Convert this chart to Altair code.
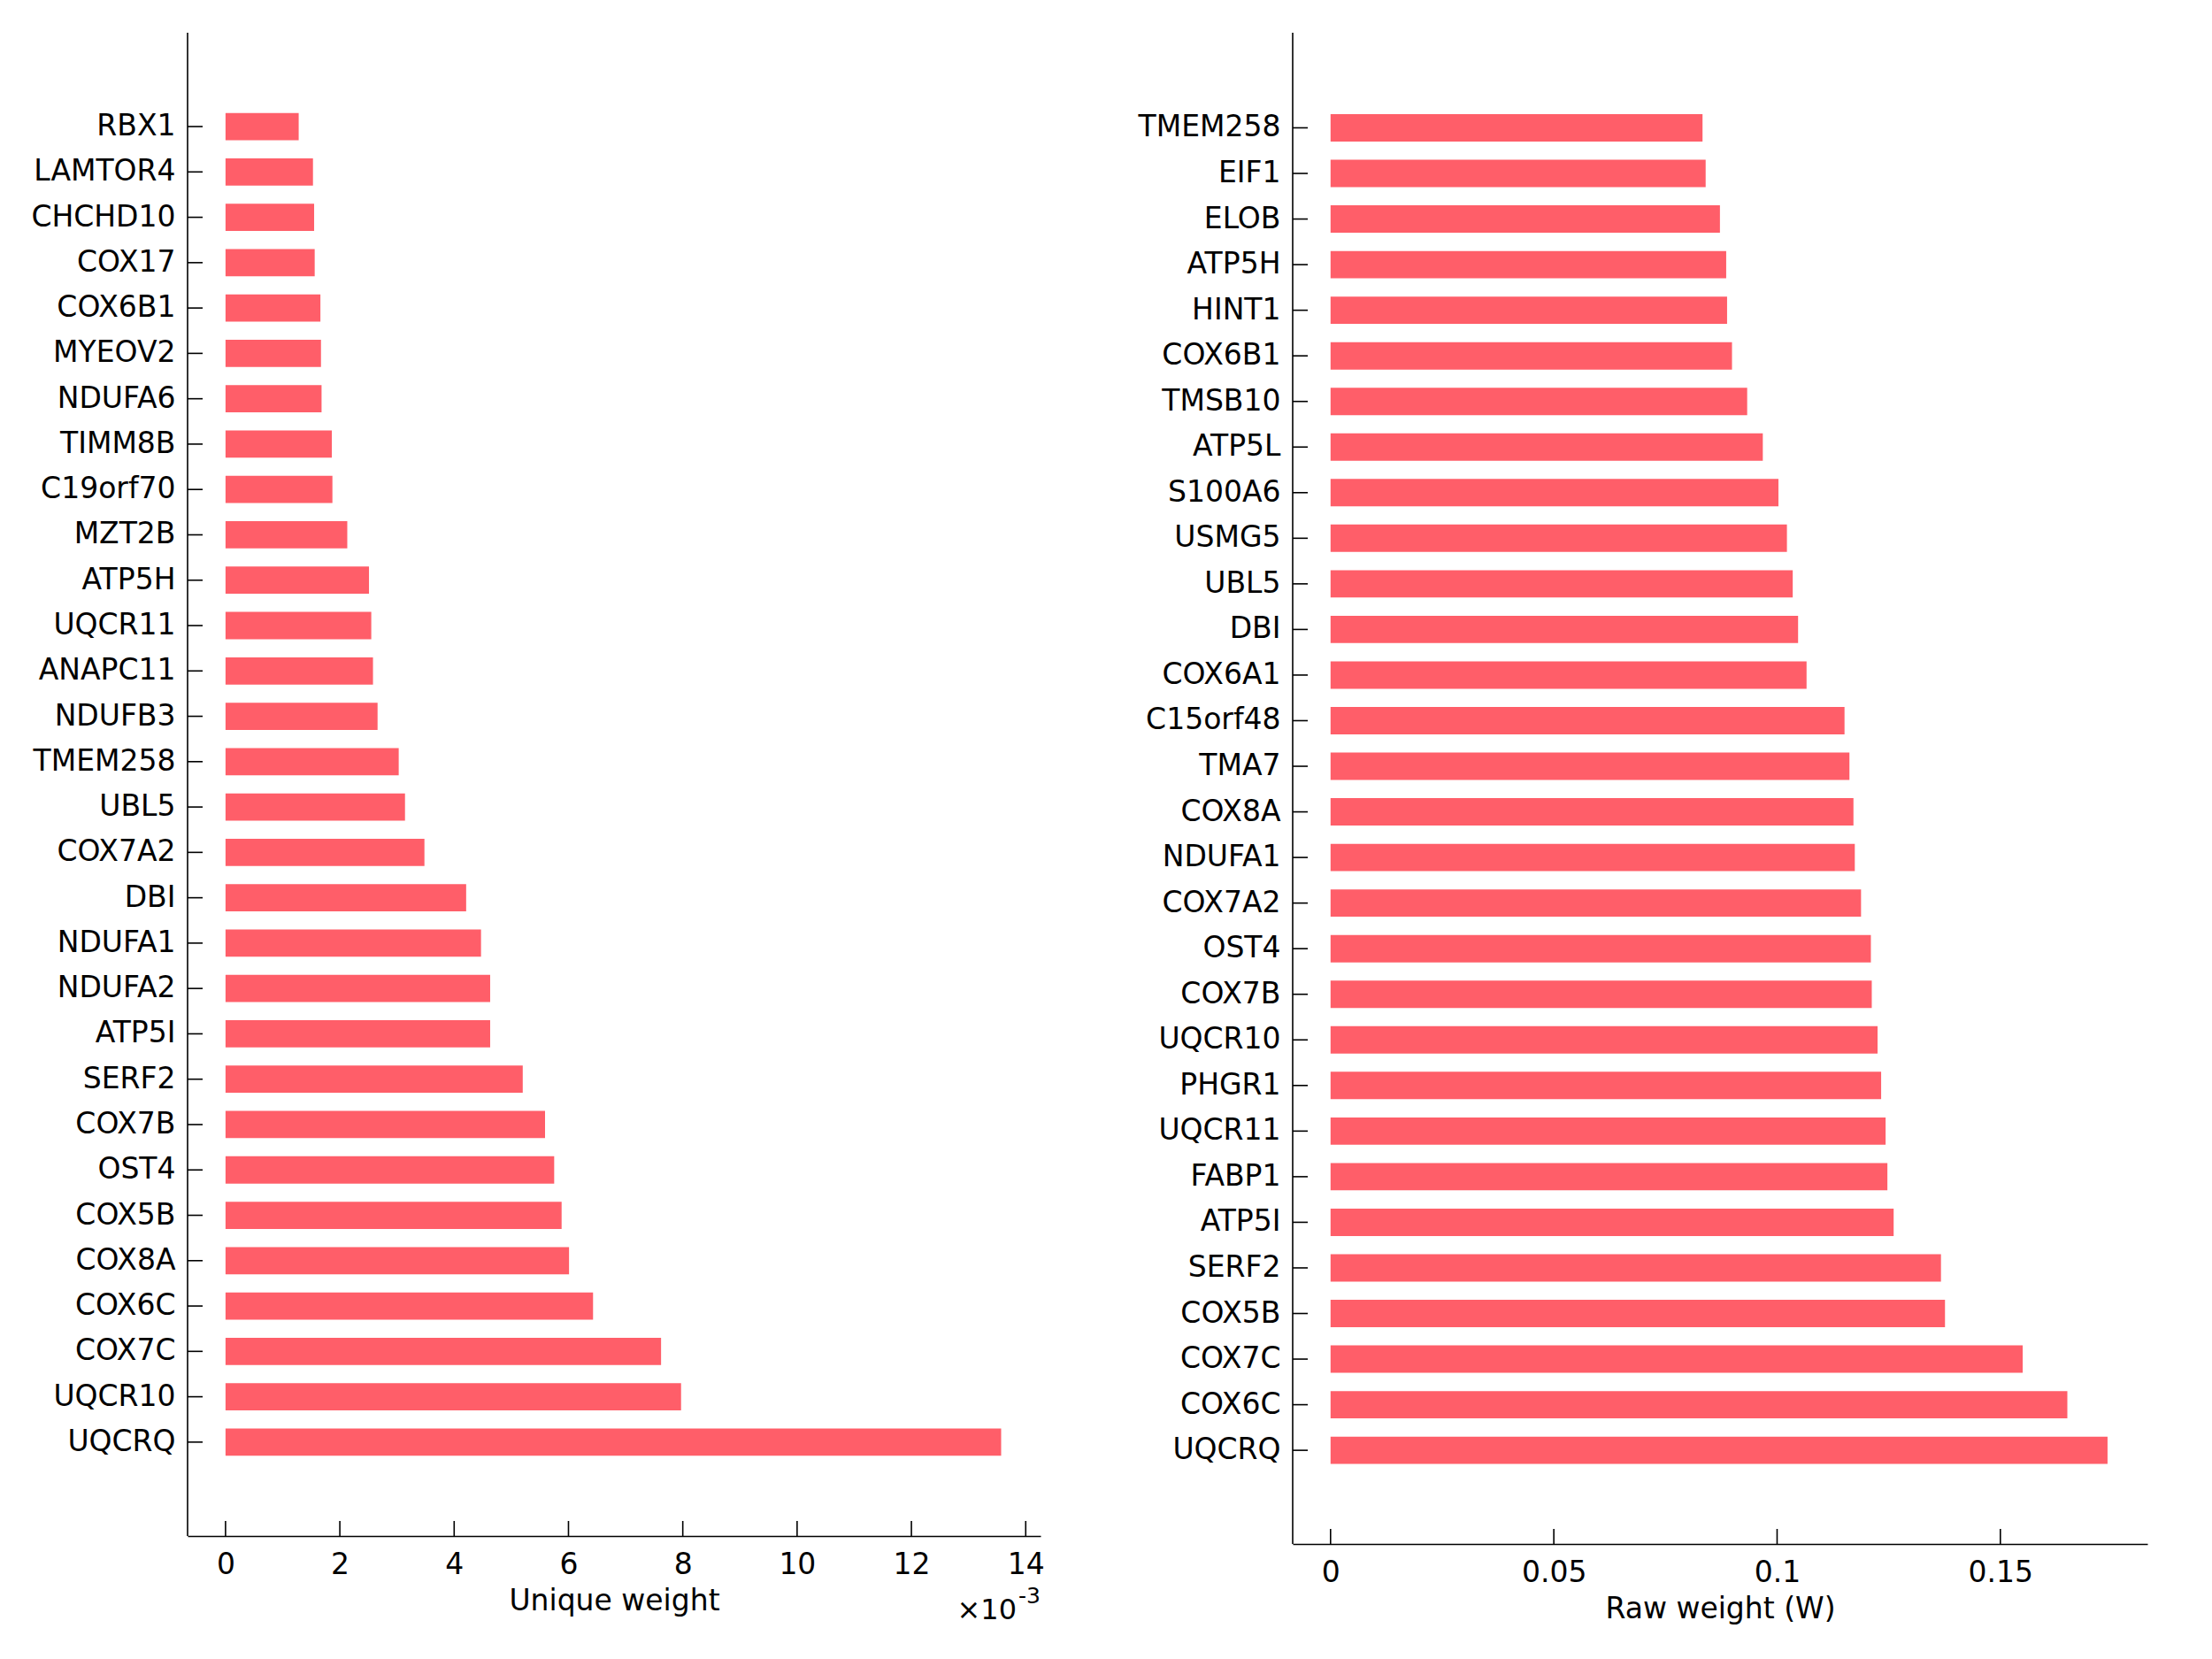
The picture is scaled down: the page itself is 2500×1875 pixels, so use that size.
import altair as alt
import pandas as pd

# ---- data ----
left_genes = ["RBX1", "LAMTOR4", "CHCHD10", "COX17", "COX6B1", "MYEOV2", "NDUFA6",
              "TIMM8B", "C19orf70", "MZT2B", "ATP5H", "UQCR11", "ANAPC11", "NDUFB3",
              "TMEM258", "UBL5", "COX7A2", "DBI", "NDUFA1", "NDUFA2", "ATP5I", "SERF2",
              "COX7B", "OST4", "COX5B", "COX8A", "COX6C", "COX7C", "UQCR10", "UQCRQ"]
unique_weight = [0.00128, 0.00153, 0.00155, 0.00156, 0.00166, 0.00167, 0.00168,
                 0.00186, 0.00187, 0.00213, 0.00251, 0.00255, 0.00258, 0.00266,
                 0.00303, 0.00314, 0.00348, 0.00421, 0.00447, 0.00463, 0.00463, 0.00520,
                 0.00559, 0.00575, 0.00588, 0.00601, 0.00643, 0.00762, 0.00797, 0.01357]

right_genes = ["TMEM258", "EIF1", "ELOB", "ATP5H", "HINT1", "COX6B1", "TMSB10", "ATP5L",
               "S100A6", "USMG5", "UBL5", "DBI", "COX6A1", "C15orf48", "TMA7", "COX8A",
               "NDUFA1", "COX7A2", "OST4", "COX7B", "UQCR10", "PHGR1", "UQCR11", "FABP1",
               "ATP5I", "SERF2", "COX5B", "COX7C", "COX6C", "UQCRQ"]
raw_weight = [0.0833, 0.0840, 0.0872, 0.0886, 0.0888, 0.0899, 0.0933, 0.0968,
              0.1003, 0.1022, 0.1035, 0.1047, 0.1066, 0.1151, 0.1162, 0.1171,
              0.1174, 0.1188, 0.1210, 0.1212, 0.1225, 0.1233, 0.1243, 0.1247,
              0.1261, 0.1367, 0.1376, 0.1550, 0.1650, 0.1740]

left_ticks = [0, 0.002, 0.004, 0.006, 0.008, 0.010, 0.012, 0.014]
right_ticks = [0, 0.05, 0.10, 0.15]

BAR = "#FF5E69"
FONT = "DejaVu Sans"
FS = 33
TICK = 17


def panel(genes, values, ticks, domain, width, height, yrange, title, label_expr):
    df = pd.DataFrame({"gene": genes, "v": values})
    tdf = pd.DataFrame({"t": ticks})
    xs = alt.Scale(domain=domain, nice=False, zero=False)
    ys = alt.Scale(paddingInner=0.4, paddingOuter=0.2, range=yrange)
    bars = alt.Chart(df).mark_bar(color=BAR).encode(
        y=alt.Y("gene:N", sort=genes, scale=ys,
                axis=alt.Axis(title=None, ticks=False, labelPadding=14,
                              labelFontSize=FS, labelFont=FONT, labelColor="black",
                              domain=False, labelLimit=400)),
        x=alt.X("v:Q", scale=xs,
                axis=alt.Axis(values=ticks, ticks=False, grid=False, labelPadding=16,
                              labelFontSize=FS, labelFont=FONT, labelColor="black",
                              labelExpr=label_expr, labelFlush=False, labelOverlap=False,
                              domainColor="black", domainWidth=1.6,
                              title=title, titleFont=FONT, titleFontSize=FS,
                              titleFontWeight="normal", titleColor="black",
                              titlePadding=8)),
        x2=alt.datum(0),
    )
    ytick = alt.Chart(df).mark_rule(color="black", strokeWidth=1.6).encode(
        y=alt.Y("gene:N", sort=genes, scale=ys),
        x=alt.value(0), x2=alt.value(TICK),
    )
    xtick = alt.Chart(tdf).mark_rule(color="black", strokeWidth=1.6).encode(
        x=alt.X("t:Q", scale=xs),
        y=alt.value(height - TICK), y2=alt.value(height),
    )
    yline = alt.Chart(tdf.head(1)).mark_rule(color="black", strokeWidth=1.6).encode(
        x=alt.value(0), y=alt.value(0), y2=alt.value(height),
    )
    return alt.layer(bars, ytick, xtick, yline).properties(width=width, height=height)


left = panel(left_genes, unique_weight, left_ticks, [-0.000664, 0.014259], 964, 1699,
             [80.4, 1618.5], "Unique weight", "format(datum.value * 1000, 'd')")

exp_df = pd.DataFrame({"a": ["×10"], "b": ["-3"]})
mult = alt.Chart(exp_df).mark_text(align="right", baseline="middle", font=FONT,
                                   fontSize=32, color="black").encode(
    text="a:N", x=alt.value(937), y=alt.value(1699 + 84))
sup = alt.Chart(exp_df).mark_text(align="right", baseline="middle", font=FONT,
                                  fontSize=25, color="black").encode(
    text="b:N", x=alt.value(964), y=alt.value(1699 + 68))
left = alt.layer(left, mult, sup)

right = panel(right_genes, raw_weight, right_ticks, [-0.00848, 0.18293], 966, 1708,
              [81.7, 1627.9], "Raw weight (W)",
              "datum.value == 0 ? '0' : format(datum.value, '.2~f')")

chart = alt.hconcat(left, right, spacing=285, bounds="flush").properties(
    padding={"left": 26, "top": 28, "right": 5, "bottom": 5}
).configure(background="white").configure_view(stroke=None)

chart.save("out.html", embed_options={"renderer": "svg", "actions": False})
